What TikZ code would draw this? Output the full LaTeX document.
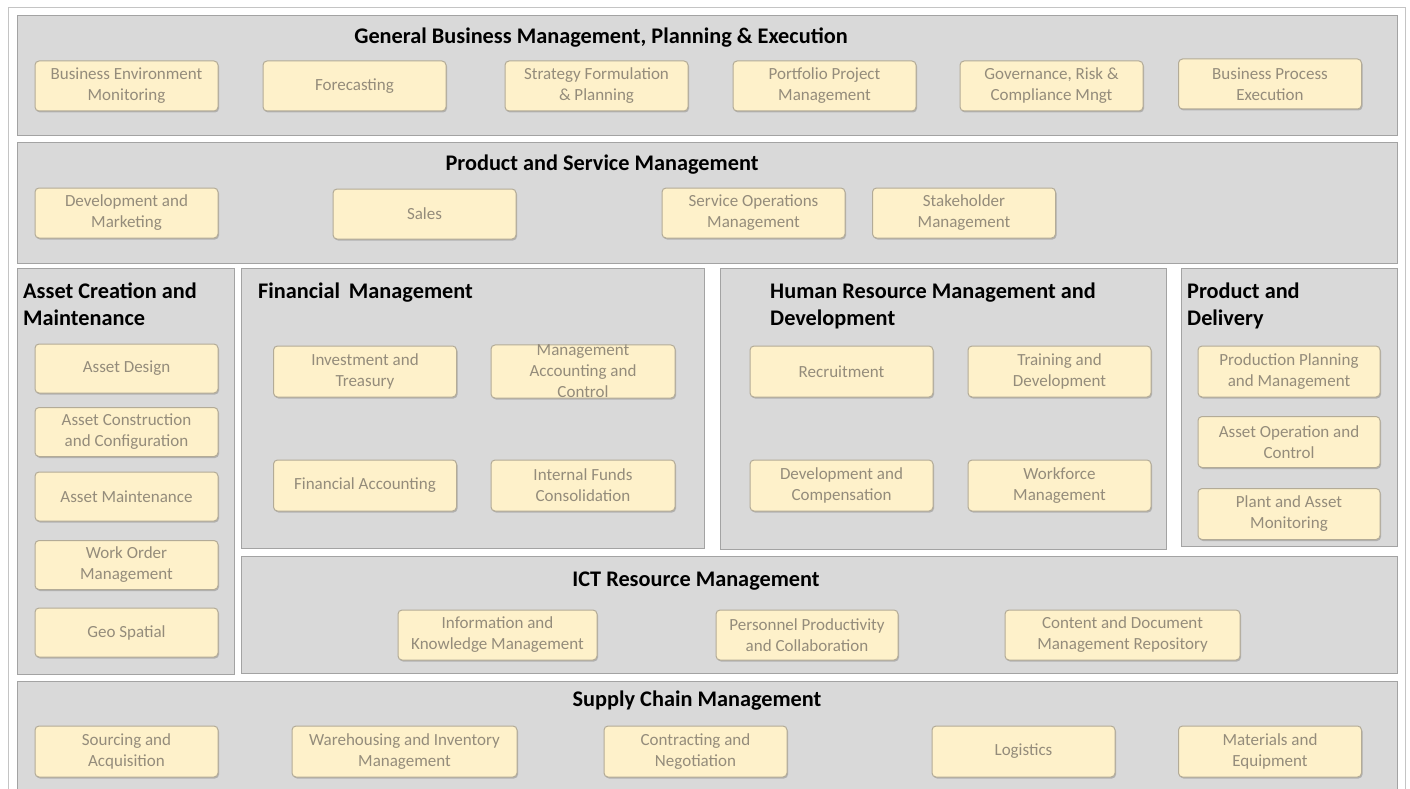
\documentclass[tikz,border=0pt]{standalone}
\usepackage{fontspec}
\setmainfont{Carlito}
\usetikzlibrary{shadows}
\definecolor{panelfill}{HTML}{D9D9D9}
\definecolor{panelline}{HTML}{A3A3A3}
\definecolor{boxfill}{HTML}{FEF1CA}
\definecolor{boxline}{HTML}{B3AB97}
\definecolor{boxtext}{HTML}{948C7B}
\definecolor{frameline}{HTML}{C4C4C4}
\tikzset{
  panel/.style={draw=panelline, fill=panelfill, line width=1pt, anchor=north west, inner sep=0pt, outer sep=0pt},
  cbox/.style={draw=boxline, fill=boxfill, line width=1pt, rounded corners=4pt, align=center,
     text=boxtext, font=\fontsize{17}{21}\selectfont, inner sep=0pt,
     minimum width=183pt, minimum height=50pt,
     drop shadow={shadow xshift=1pt, shadow yshift=-1.5pt, fill=black, opacity=0.18}},
  ctitle/.style={font=\fontsize{22.3}{27}\selectfont\bfseries, text=black, inner sep=0pt},
  ltitle/.style={ctitle, anchor=north west, align=left}
}
\begin{document}
\begin{tikzpicture}[x=1pt,y=-1pt]
\useasboundingbox (0,0) rectangle (1410,789);
\fill[white] (0,0) rectangle (1410,789);
\draw[frameline, line width=1pt] (8,800) -- (8,8) -- (1405,8) -- (1405,800);
% panels
\node[panel, minimum width=1380pt, minimum height=120pt] (pgen) at (17,16) {};
\node[panel, minimum width=1380pt, minimum height=121pt] (ppsm) at (17,142) {};
\node[panel, minimum width=217pt, minimum height=406pt] (passet) at (17,268) {};
\node[panel, minimum width=463pt, minimum height=280pt] (pfin) at (241,268) {};
\node[panel, minimum width=446pt, minimum height=281pt] (phr) at (720,268) {};
\node[panel, minimum width=216pt, minimum height=278pt] (ppd) at (1181,268) {};
\node[panel, minimum width=1156pt, minimum height=117pt] (pict) at (241,556) {};
\node[panel, minimum width=1380pt, minimum height=120pt] (psc) at (17,681) {};
% titles
\node[ctitle] (tgen) at (601,38) {General Business Management, Planning \& Execution};
\node[ctitle] (tpsm) at (602,165) {Product and Service Management};
\node[ltitle] (tasset) at (23,283) {Asset Creation and\\Maintenance};
\node[ltitle] (tfin) at (258,283) {Financial\, Management};
\node[ltitle] (thr) at (770,283) {Human Resource Management and\\Development};
\node[ltitle] (tpd) at (1187,283) {Product and\\Delivery};
\node[ctitle] (tict) at (696,581) {ICT Resource Management};
\node[ctitle] (tsc) at (697,701) {Supply Chain Management};
% general
\node[cbox] (g1) at (126.5,86) {Business Environment\\Monitoring};
\node[cbox] (g2) at (354.5,86) {Forecasting};
\node[cbox] (g3) at (596.5,86) {Strategy Formulation\\\& Planning};
\node[cbox] (g4) at (824.5,86) {Portfolio Project\\Management};
\node[cbox] (g5) at (1051.5,86) {Governance, Risk \&\\Compliance Mngt};
\node[cbox] (g6) at (1270,84) {Business Process\\Execution};
% product and service
\node[cbox] (s1) at (126.5,213) {Development and\\Marketing};
\node[cbox] (s2) at (424.5,214) {Sales};
\node[cbox] (s3) at (753.5,213) {Service Operations\\Management};
\node[cbox] (s4) at (964,213) {Stakeholder\\Management};
% asset
\node[cbox, minimum height=49pt] (a1) at (126.5,368.5) {Asset Design};
\node[cbox, minimum height=49pt] (a2) at (126.5,432) {Asset Construction\\and Configuration};
\node[cbox, minimum height=49pt] (a3) at (126.5,496.5) {Asset Maintenance};
\node[cbox, minimum height=49pt] (a4) at (126.5,565) {Work Order\\Management};
\node[cbox, minimum height=49pt] (a5) at (126.5,632.5) {Geo Spatial};
% financial
\node[cbox, minimum height=51pt] (f1) at (365,371.5) {Investment and\\Treasury};
\node[cbox, minimum height=51pt, minimum width=184pt] (f2) at (583,371.5) {Management\\Accounting and\\Control};
\node[cbox, minimum height=51pt] (f3) at (365,485.5) {Financial Accounting};
\node[cbox, minimum height=51pt, minimum width=184pt] (f4) at (583,485.5) {Internal Funds\\Consolidation};
% hr
\node[cbox, minimum height=51pt] (h1) at (841.5,371.5) {Recruitment};
\node[cbox, minimum height=51pt] (h2) at (1059.5,371.5) {Training and\\Development};
\node[cbox, minimum height=51pt] (h3) at (841.5,485.5) {Development and\\Compensation};
\node[cbox, minimum height=51pt] (h4) at (1059.5,485.5) {Workforce\\Management};
% product and delivery
\node[cbox, minimum height=51pt, minimum width=182pt] (d1) at (1289,371.5) {Production Planning\\and Management};
\node[cbox, minimum height=51pt, minimum width=182pt] (d2) at (1289,442) {Asset Operation and\\Control};
\node[cbox, minimum height=51pt, minimum width=182pt] (d3) at (1289,514) {Plant and Asset\\Monitoring};
% ict
\node[cbox, minimum width=199pt] (i1) at (497.5,635) {Information and\\Knowledge Management};
\node[cbox, minimum width=182pt] (i2) at (807,635) {Personnel Productivity\\and Collaboration};
\node[cbox, minimum width=235pt] (i3) at (1122.5,635) {Content and Document\\Management Repository};
% supply chain
\node[cbox, minimum height=51pt] (c1) at (126.5,751.5) {Sourcing and\\Acquisition};
\node[cbox, minimum height=51pt, minimum width=225pt] (c2) at (404.5,751.5) {Warehousing and Inventory\\Management};
\node[cbox, minimum height=51pt] (c3) at (695.5,751.5) {Contracting and\\Negotiation};
\node[cbox, minimum height=51pt] (c4) at (1023.5,751.5) {Logistics};
\node[cbox, minimum height=51pt] (c5) at (1270,751.5) {Materials and\\Equipment};
\end{tikzpicture}
\end{document}
